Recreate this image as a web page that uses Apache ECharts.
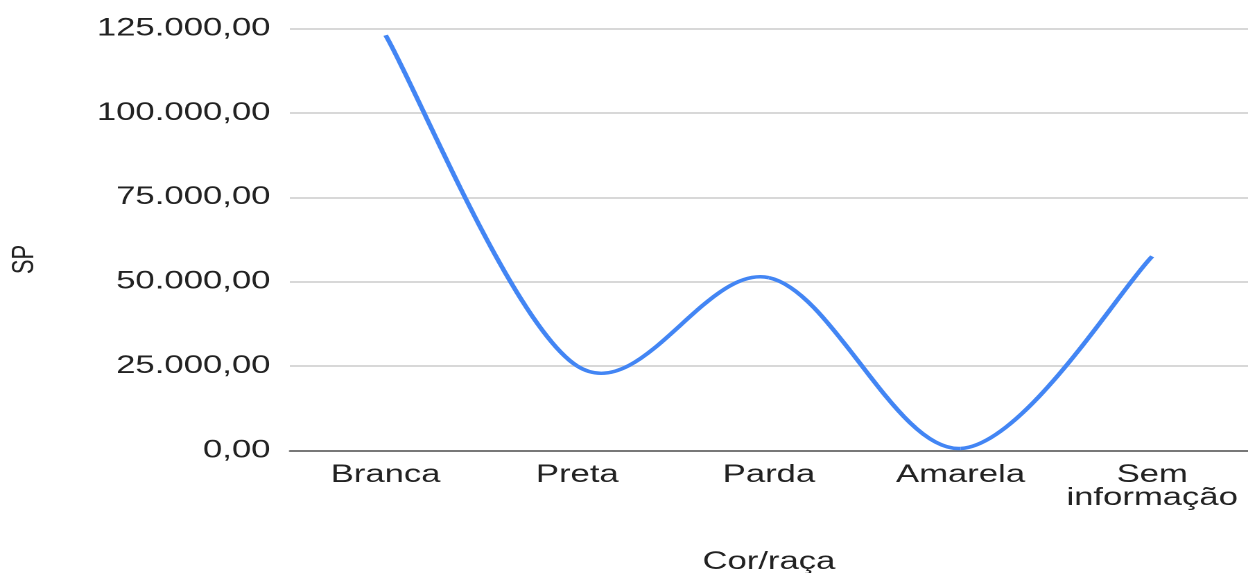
<!DOCTYPE html>
<html lang="pt-BR">
<head>
<meta charset="utf-8">
<title>SP por Cor/raça</title>
<script src="https://cdn.jsdelivr.net/npm/echarts@6/dist/echarts.min.js"></script>
<style>
  html, body { margin: 0; padding: 0; background: #ffffff; overflow: hidden; }
  /* the chart is laid out on a narrower canvas and widened to the page width */
  #chart {
    width: 900px;
    height: 573px;
    transform: scaleX(1.38667);
    transform-origin: 0 0;
  }
</style>
</head>
<body>
<div id="chart"></div>
<script>
// Categories (Cor/raça) and values for SP
const categories = ['Branca', 'Preta', 'Parda', 'Amarela', 'Sem\ninformação'];
const spValues = [123000, 25000, 51200, 600, 57500];

// Value axis range and step
const yMin = 0;
const yMax = 125000;
const yStep = 25000;

const axisTitleX = 'Cor/raça';
const axisTitleY = 'SP';

const lineColor = '#4285f4';

// Brazilian number format: thousands with '.', decimals with ','
function formatBR(v) {
  const int = Math.round(v).toString().replace(/\B(?=(\d{3})+(?!\d))/g, '.');
  return int + ',00';
}

const chart = echarts.init(document.getElementById('chart'), null, { devicePixelRatio: 2 });

const font = '"Liberation Sans", Arial, sans-serif';

// Each data point draws the curved piece up to the next point:
// a Catmull-Rom spline through the points, placed by the axes' own scales.
function renderSegment(params, api) {
  const i = params.dataIndex;
  const n = spValues.length;
  if (i >= n - 1) return null;
  const at = k => {
    const j = Math.max(0, Math.min(n - 1, k));
    return api.coord([j, spValues[j]]);
  };
  const p0 = at(i - 1), p1 = at(i), p2 = at(i + 1), p3 = at(i + 2);
  return {
    type: 'bezierCurve',
    shape: {
      x1: p1[0], y1: p1[1],
      x2: p2[0], y2: p2[1],
      cpx1: p1[0] + (p2[0] - p0[0]) / 6,
      cpy1: p1[1] + (p2[1] - p0[1]) / 6,
      cpx2: p2[0] - (p3[0] - p1[0]) / 6,
      cpy2: p2[1] - (p3[1] - p1[1]) / 6
    },
    style: { stroke: lineColor, lineWidth: 3.5, fill: null, lineCap: 'butt' }
  };
}

chart.setOption({
  backgroundColor: '#ffffff',
  animation: false,
  grid: { left: 209, right: 0, top: 28.5, bottom: 122.5, containLabel: false, outerBoundsMode: 'none' },
  xAxis: {
    type: 'category',
    data: categories,
    boundaryGap: true,
    name: axisTitleX,
    nameLocation: 'middle',
    nameGap: 99,
    nameTextStyle: { color: '#222222', fontSize: 25, fontFamily: font, lineHeight: 25 },
    axisLine: { show: true, lineStyle: { color: '#555555', width: 1.5 } },
    axisTick: { show: false },
    axisLabel: {
      color: '#222222', fontSize: 25, fontFamily: font, lineHeight: 23, margin: 13, interval: 0
    },
    splitLine: { show: false }
  },
  yAxis: {
    type: 'value',
    min: yMin,
    max: yMax,
    interval: yStep,
    name: axisTitleY,
    nameLocation: 'middle',
    nameRotate: 90,
    nameGap: 180,
    nameTextStyle: { color: '#222222', fontSize: 22, fontFamily: font, padding: [0, 40, 0, 0] },
    axisLine: { show: false },
    axisTick: { show: false },
    axisLabel: {
      color: '#222222', fontSize: 25, fontFamily: font, margin: 14, formatter: formatBR
    },
    splitLine: { show: true, lineStyle: { color: '#cccccc', width: 1.5 } }
  },
  series: [{
    name: axisTitleY,
    type: 'custom',
    coordinateSystem: 'cartesian2d',
    data: spValues.map((v, i) => [i, v]),
    encode: { x: 0, y: 1 },
    renderItem: renderSegment,
    clip: false
  }]
});
</script>
</body>
</html>
